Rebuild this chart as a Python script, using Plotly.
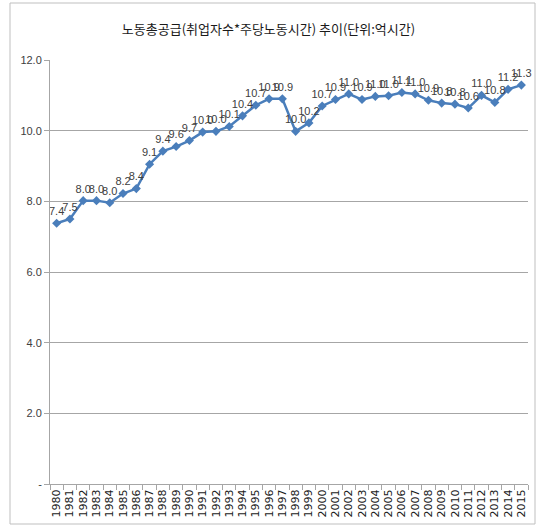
import plotly.graph_objects as go

years = [str(y) for y in range(1980, 2016)]
hours = [7.38, 7.50, 8.02, 8.02, 7.96, 8.22, 8.36, 9.05, 9.42, 9.55, 9.72, 9.96, 9.98, 10.12,
         10.42, 10.72, 10.90, 10.90, 9.98, 10.22, 10.70, 10.88, 11.04, 10.88, 10.97, 10.99,
         11.08, 11.04, 10.86, 10.78, 10.75, 10.64, 11.00, 10.80, 11.17, 11.29]

y_ticks = [0, 2, 4, 6, 8, 10, 12]
y_labels = ["-", "2.0", "4.0", "6.0", "8.0", "10.0", "12.0"]

_BLUE = "#4a7ebb"
_GRID = "#a6a6a6"
_TEXT = "#404040"

fig = go.Figure()
fig.add_trace(
    go.Scatter(
        x=years,
        y=hours,
        mode="lines+markers+text",
        line={"color": _BLUE, "width": 2.5},
        marker={"symbol": "diamond", "size": 7, "color": _BLUE},
        text=[f"{v:.1f}" for v in hours],
        textposition="top center",
        textfont={"family": "Liberation Sans Narrow, Arial Narrow, sans-serif", "size": 11, "color": _TEXT},
        cliponaxis=False,
        showlegend=False,
    )
)

fig.update_layout(
    width=537,
    height=532,
    plot_bgcolor="#ffffff",
    paper_bgcolor="#ffffff",
    margin={"l": 50, "r": 9, "t": 60, "b": 48, "autoexpand": False},
    title={
        "text": "노동총공급(취업자수*주당노동시간) 추이(단위:억시간)",
        "x": 0.5,
        "xanchor": "center",
        "y": 0.944,
        "yanchor": "middle",
        "font": {"family": "Noto Sans CJK KR", "size": 13, "color": "#1a1a1a"},
    },
    xaxis={
        "type": "category",
        "range": [-0.5, len(years) - 0.5],
        "tickmode": "array",
        "tickvals": years,
        "automargin": False,
        "showgrid": False,
        "showline": True,
        "linecolor": _GRID,
        "ticks": "outside",
        "ticklen": 5,
        "tickcolor": _GRID,
        "tickson": "boundaries",
        "tickangle": -90,
        "tickfont": {"family": "DejaVu Sans", "size": 11, "color": "#1a1a1a"},
    },
    yaxis={
        "range": [0, 12],
        "automargin": False,
        "tickvals": y_ticks,
        "ticktext": y_labels,
        "showgrid": True,
        "gridcolor": _GRID,
        "gridwidth": 1,
        "showline": True,
        "linecolor": _GRID,
        "zeroline": False,
        "ticks": "outside",
        "ticklen": 5,
        "tickcolor": _GRID,
        "tickfont": {"family": "Liberation Sans Narrow, Arial Narrow, sans-serif", "size": 11, "color": _TEXT},
    },
    shapes=[
        {
            "type": "rect",
            "xref": "paper",
            "yref": "paper",
            "x0": -40 / 478,
            "x1": 485 / 478,
            "y0": -40 / 424,
            "y1": 1 + 57 / 424,
            "line": {"color": "#bfbfbf", "width": 1},
            "layer": "below",
        }
    ],
)

fig.write_html(
    "out.html",
    config={"displayModeBar": False},
    post_script="document.body.style.margin = '0';",
)
